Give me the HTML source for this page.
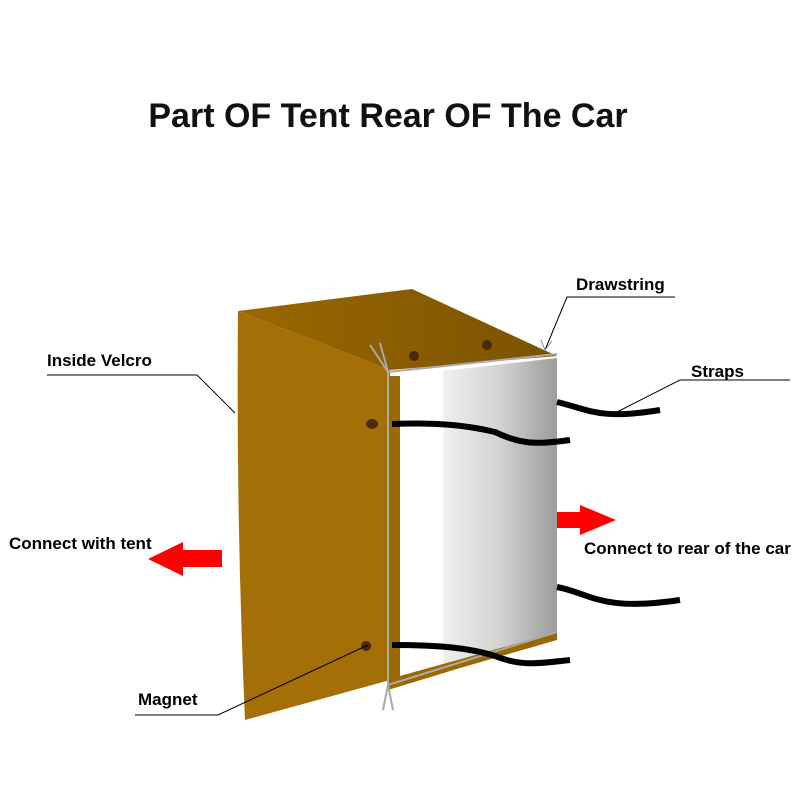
<!DOCTYPE html>
<html><head><style>
body{margin:0;background:#fff}
svg text{font-family:"Liberation Sans",Arial,sans-serif;font-weight:bold}
</style></head><body>
<svg width="800" height="800" viewBox="0 0 800 800" xmlns="http://www.w3.org/2000/svg">
<defs>
<linearGradient id="g" x1="0" x2="1" y1="0" y2="0">
<stop offset="0" stop-color="#f0f0f0"/><stop offset="0.5" stop-color="#d2d2d2"/><stop offset="1" stop-color="#9c9c9c"/>
</linearGradient>
<linearGradient id="top" x1="0" x2="1" y1="0" y2="0">
<stop offset="0" stop-color="#9a6800"/><stop offset="1" stop-color="#7a5200"/>
</linearGradient>
</defs>
<text x="388" y="127" font-size="34" text-anchor="middle" fill="#111">Part OF Tent Rear OF The Car</text>
<polygon points="238,311 412,289 557,356 390,370" fill="url(#top)"/>
<polygon points="388,677 557,630 557,640 460,668 388,690" fill="#9a6700"/>
<polygon points="400,375 557,358 557,632 400,676" fill="#fff"/>
<polygon points="443,371 557,358 557,632 443,664" fill="url(#g)"/>
<path d="M238,311 L390,370 L390,680 L245,720 Q236,520 238,311 Z" fill="#a36f06"/>
<polygon points="388,376 400,376 400,676 388,680" fill="#9b6a04"/>
<g stroke="#aaa" stroke-width="2" fill="none">
<line x1="388" y1="372" x2="557" y2="354"/>
<line x1="388" y1="372" x2="388" y2="685"/>
<line x1="388" y1="685" x2="557" y2="632"/>
<path d="M370,345 L388,372 L380,343"/>
<path d="M383,710 L388,685 L393,710"/>
</g>
<g fill="#4a2a08">
<ellipse cx="414" cy="356" rx="5" ry="5"/><ellipse cx="487" cy="345" rx="5" ry="5"/>
<ellipse cx="372" cy="424" rx="6" ry="5"/><ellipse cx="366" cy="646" rx="5" ry="5"/>
</g>
<g stroke="#000" stroke-width="6" fill="none">
<path d="M392,424 C440,422 470,426 495,432 C520,444 535,445 570,440"/>
<path d="M392,645 C440,645 470,648 495,656 C520,666 535,664 570,660"/>
<path d="M557,402 C590,410 600,420 660,410"/>
<path d="M557,587 C590,593 600,612 680,600"/>
</g>
<polygon points="557,512 580,512 580,505 616,520 580,535 580,528 557,528" fill="#f00"/>
<polygon points="222,550 183,550 183,542 148,559 183,576 183,567 222,567" fill="#f00"/>
<g stroke="#000" stroke-width="1" fill="none">
<polyline points="47,375 197,375 235,413"/>
<polyline points="675,297 567,297 545,350"/>
<path d="M541,340 L545,350 L552,341" stroke="#888"/>
<polyline points="790,380 680,380 617,412"/>
<polyline points="135,715 218,715 368,645"/>
</g>
<g font-size="17" fill="#000">
<text x="576" y="290">Drawstring</text>
<text x="47" y="366">Inside Velcro</text>
<text x="691" y="377">Straps</text>
<text x="9" y="549">Connect with tent</text>
<text x="584" y="554">Connect to rear of the car</text>
<text x="138" y="705">Magnet</text>
</g>
</svg>
</body></html>
